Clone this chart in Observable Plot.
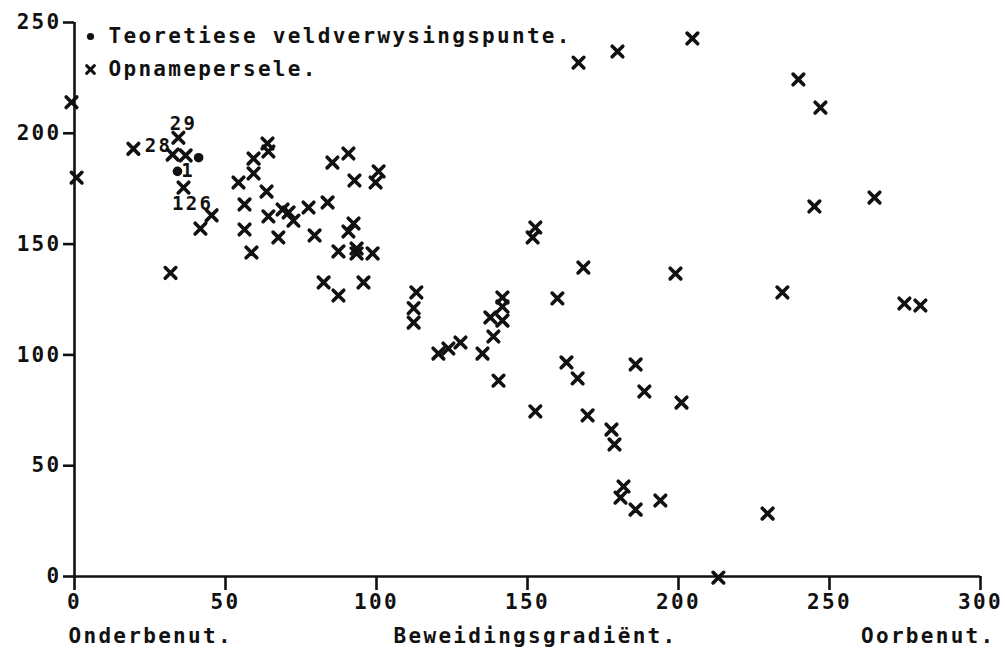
<!DOCTYPE html>
<html>
<head>
<meta charset="utf-8">
<script src="https://cdn.jsdelivr.net/npm/d3@7"></script>
<script src="https://cdn.jsdelivr.net/npm/@observablehq/plot@0.6"></script>
<style>
  html, body { margin: 0; padding: 0; background: #fff; }
  #chart svg { display: block; }
</style>
</head>
<body>
<div id="chart"></div>
<script>
// Opnamepersele (survey plots): x = grazing gradient, y = value
const crossX = [-1, 0.7, 19.5, 31.8, 34.4, 32.5, 36.8, 36.1, 45.4, 41.7,
  63.9, 64.2, 59.3, 59.3, 54.3, 63.6, 56.3, 64.2, 68.9, 70.9, 72.5, 77.5, 83.8, 56.3, 67.5, 58.6,
  85.4, 90.7, 92.7, 100.7, 99.7, 79.5, 92.4, 90.7, 87.4, 93.4, 93.4, 98.7, 82.5, 87.4, 95.7,
  113.2, 112.3, 112.3, 152.6, 151.7, 168.5, 159.9, 141.7, 141.7, 137.7, 141.7, 138.7, 127.8,
  123.8, 120.5, 135.1, 140.4, 162.9, 166.6, 152.6, 169.9,
  185.8, 188.7, 201, 177.8, 178.8, 181.8, 180.8, 185.8, 194, 213.2, 229.5, 166.9, 179.8, 204.6,
  239.7, 247, 245, 264.9, 199, 234.4, 274.8, 280.1];
const crossY = [214, 180, 193, 137, 198, 190.4, 190, 175.5, 163, 157,
  195.4, 191.8, 188.6, 181.9, 177.8, 173.7, 167.9, 162.5, 165.6, 164.3, 160.6, 166.5, 168.8, 156.6, 153, 146.2,
  186.8, 190.9, 178.7, 182.8, 177.8, 153.9, 159.3, 155.7, 146.7, 148, 145.8, 145.8, 132.7, 126.8, 132.7,
  128.2, 121.1, 114.6, 157.5, 153, 139.4, 125.5, 125.9, 121.8, 116.9, 115.5, 108.3, 105.6,
  102.9, 100.6, 100.6, 88.4, 96.6, 89.4, 74.5, 72.7,
  95.7, 83.5, 78.5, 66.3, 59.6, 40.6, 35.6, 30.2, 34.3, -0.5, 28.4, 231.9, 236.9, 242.8,
  224.3, 211.6, 167, 171, 136.7, 128.2, 123.2, 122.3];

// Teoretiese veldverwysingspunte (theoretical reference points)
const dotX = [41.1, 34.1];
const dotY = [189, 182.8];

// Point labels
const labelText = ["29", "28", "126", "1"];
const labelX = [36.1, 27.8, 39.1, 37.6];
const labelY = [204.4, 194.5, 168.3, 183.0];

const xTicks = [0, 50, 100, 150, 200, 250, 300];
const yTicks = [0, 50, 100, 150, 200, 250];
const legendLabels = ["Teoretiese veldverwysingspunte.", "Opnamepersele."];
const bottomLabels = ["Onderbenut.", "Beweidingsgradiënt.", "Oorbenut."];

const crosses = crossX.map((x, i) => ({x, y: crossY[i]}));
const dots = dotX.map((x, i) => ({x, y: dotY[i]}));
const labels = labelText.map((t, i) => ({t, x: labelX[i], y: labelY[i]}));

const chart = Plot.plot({
  width: 1005,
  height: 654,
  marginLeft: 74,
  marginRight: 25,
  marginTop: 22,
  marginBottom: 78,
  x: {domain: [0, 300]},
  y: {domain: [0, 250]},
  style: {
    fontFamily: "DejaVu Sans Mono",
    fontWeight: "bold",
    fontSize: "21px",
    letterSpacing: "2.3px",
    color: "#111",
    background: "#fff"
  },
  marks: [
    Plot.ruleX([0], {y1: 0, y2: 250, stroke: "#111", strokeWidth: 2.6}),
    Plot.ruleY([0], {x1: 0, x2: 300, stroke: "#111", strokeWidth: 2.6}),
    Plot.axisX({ticks: xTicks, tickSize: 14, tickPadding: 4, tickFormat: d => String(d), strokeWidth: 2.6, label: null, fill: "#111"}),
    Plot.axisY({ticks: yTicks, tickSize: 11, tickPadding: 2, tickFormat: d => String(d), strokeWidth: 2.6, label: null, fill: "#111"}),
    Plot.dot(crosses, {x: "x", y: "y", symbol: "times", r: 4.9, stroke: "#111", strokeWidth: 3.6, strokeLinecap: "round"}),
    Plot.dot(dots, {x: "x", y: "y", r: 4.8, fill: "#111", stroke: "none"}),
    Plot.text(labels, {x: "x", y: "y", text: "t", fill: "#111", fontSize: 19, letterSpacing: "0px"}),
    // legend
    Plot.dot([0], {frameAnchor: "top-left", dx: 16, dy: 14, r: 3.6, fill: "#111", stroke: "none"}),
    Plot.dot([0], {frameAnchor: "top-left", dx: 16, dy: 47, r: 3.6, symbol: "times", stroke: "#111", strokeWidth: 3, strokeLinecap: "round"}),
    Plot.text([legendLabels[0]], {frameAnchor: "top-left", dx: 34, dy: 14, textAnchor: "start", lineAnchor: "middle", fill: "#111"}),
    Plot.text([legendLabels[1]], {frameAnchor: "top-left", dx: 34, dy: 47, textAnchor: "start", lineAnchor: "middle", fill: "#111"}),
    // bottom labels
    Plot.text([bottomLabels[0]], {frameAnchor: "bottom-left", dx: -6, dy: 60, textAnchor: "start", lineAnchor: "middle", fill: "#111"}),
    Plot.text([bottomLabels[1]], {frameAnchor: "bottom", dx: 8, dy: 60, textAnchor: "middle", lineAnchor: "middle", fill: "#111"}),
    Plot.text([bottomLabels[2]], {frameAnchor: "bottom-right", dx: 15, dy: 60, textAnchor: "end", lineAnchor: "middle", fill: "#111"})
  ]
});
document.getElementById("chart").append(chart);
</script>
</body>
</html>
